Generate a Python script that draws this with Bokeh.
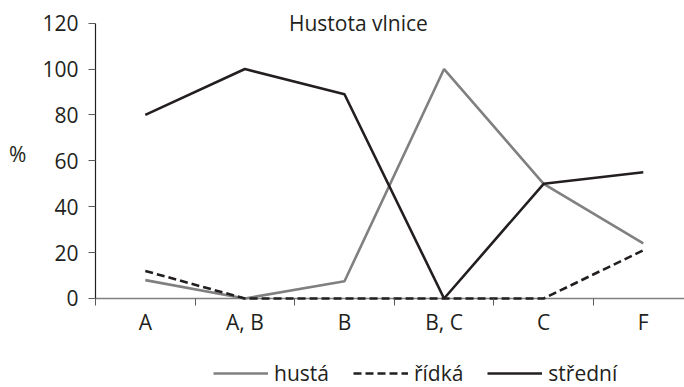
from bokeh.plotting import figure
from bokeh.layouts import column
from bokeh.models import FixedTicker, Legend, LegendItem, Label, Range1d, Span
from bokeh.embed import file_html
from bokeh.resources import INLINE

categories = ["A", "A, B", "B", "B, C", "C", "F"]
husta = [8, 0, 7.5, 100, 50, 24]
ridka = [12, 0, 0, 0, 0, 21]
stredni = [80, 100, 89, 0, 50, 55]
y_ticks = [0, 20, 40, 60, 80, 100, 120]
series_names = ["hustá", "řídká", "střední"]
chart_title = "Hustota vlnice"
y_label = "%"

FONT = "Open Sans"
FS = "21px"
DARK = "#231f20"
GREY = "#808080"
TICK = "#5a5a5a"
styles = [dict(line_color=GREY, line_width=2.6),
          dict(line_color=DARK, line_width=2.6, line_dash="8 4"),
          dict(line_color=DARK, line_width=2.6)]
series = [husta, ridka, stredni]

x = list(range(len(categories)))

p = figure(width=684, height=345, output_backend="svg", toolbar_location=None,
           x_range=Range1d(-0.5, 5.414), y_range=Range1d(-1.31, 127.7),
           min_border_left=95, min_border_right=0, min_border_top=5,
           min_border_bottom=44, outline_line_color=None)
p.xgrid.visible = False
p.ygrid.visible = False

# baseline under the series lines
p.add_layout(Span(location=y_ticks[0], dimension="width", line_color=GREY,
                  line_width=1.5, level="underlay"))

for s, st in zip(series, styles):
    p.line(x, s, **st)

xa = p.xaxis[0]
xa.ticker = FixedTicker(ticks=x, minor_ticks=[i - 0.5 for i in range(len(categories) + 1)])
xa.major_tick_out = 0
xa.major_tick_in = 0
xa.minor_tick_out = 4
xa.minor_tick_in = 3
xa.minor_tick_line_color = TICK
xa.axis_line_color = None
xa.major_label_overrides = {i: c for i, c in enumerate(categories)}
xa.major_label_standoff = 2
xa.major_label_text_font = FONT
xa.major_label_text_font_size = FS
xa.major_label_text_color = DARK

ya = p.yaxis[0]
ya.ticker = FixedTicker(ticks=y_ticks, minor_ticks=[])
ya.bounds = (0, 120)
ya.major_tick_out = 7
ya.major_tick_in = 0
ya.major_tick_line_color = TICK
ya.axis_line_color = DARK
ya.axis_line_width = 1.2
ya.major_label_standoff = 10
ya.major_label_text_font = FONT
ya.major_label_text_font_size = FS
ya.major_label_text_color = DARK
ya.axis_label = y_label
ya.axis_label_orientation = "horizontal"
ya.axis_label_standoff = 13
ya.axis_label_text_font = FONT
ya.axis_label_text_font_size = FS
ya.axis_label_text_font_style = "normal"
ya.axis_label_text_color = DARK

p.add_layout(Label(x=2.14, y=120, text=chart_title, text_align="center",
                   text_baseline="middle", text_font=FONT, text_font_size=FS,
                   text_color=DARK))

# legend strip: same series drawn outside its ranges, only the legend shows
q = figure(width=684, height=42, output_backend="svg", toolbar_location=None,
           x_range=Range1d(100, 101), y_range=Range1d(1000, 1001),
           x_axis_type=None, y_axis_type=None, outline_line_color=None,
           min_border_left=0, min_border_right=0, min_border_top=0,
           min_border_bottom=0)
q.xgrid.visible = False
q.ygrid.visible = False
items = []
for name, s, st in zip(series_names, series, styles):
    r = q.line(x, s, **st)
    items.append(LegendItem(label=name, renderers=[r]))

legend = Legend(items=items, orientation="horizontal", location=(118, 0),
                padding=0, margin=0, spacing=24, label_standoff=6,
                glyph_width=55, glyph_height=20, label_height=20,
                label_text_font=FONT, label_text_font_size=FS,
                label_text_color=DARK, border_line_color=None,
                background_fill_alpha=0)
q.add_layout(legend)

layout = column(p, q, spacing=0)
open("out.html", "w").write(file_html(layout, INLINE))
